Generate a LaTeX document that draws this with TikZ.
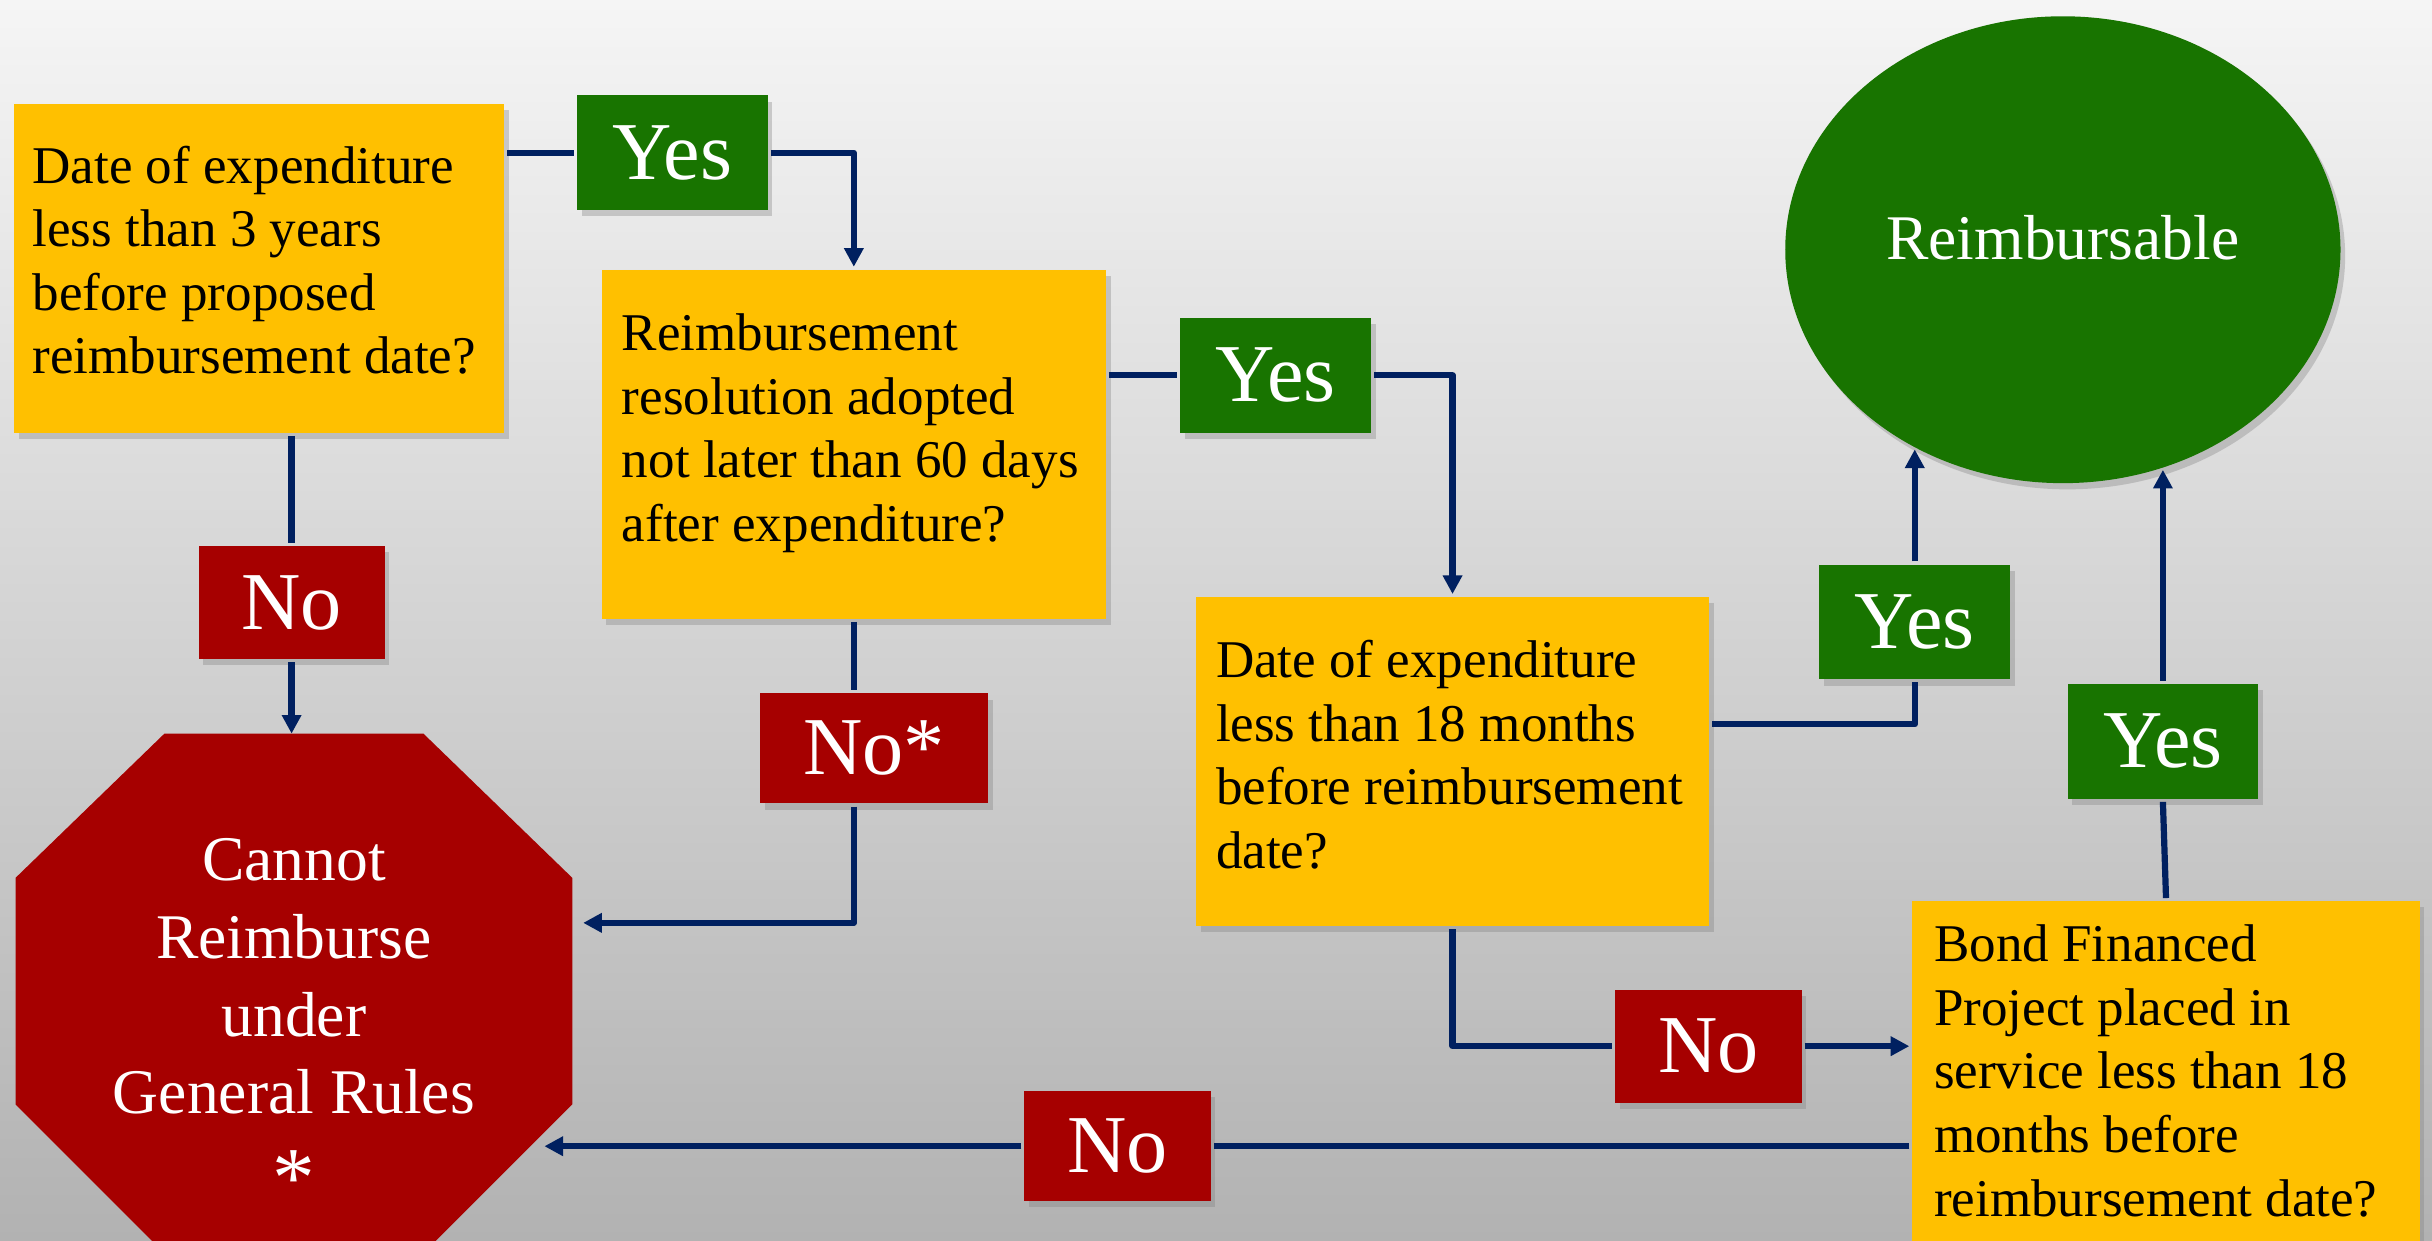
\documentclass[tikz,border=0pt]{standalone}
\usepackage{fontspec}
\setmainfont{Liberation Serif}
\usetikzlibrary{arrows.meta,shapes.geometric,shadows}

\definecolor{boxyellow}{HTML}{FFC000}
\definecolor{yesgreen}{HTML}{187400}
\definecolor{nored}{HTML}{A60000}
\definecolor{flownavy}{HTML}{002060}
\definecolor{bgtop}{HTML}{F5F5F5}
\definecolor{bgbottom}{HTML}{B2B2B2}

\newcommand\bigstar{\raisebox{-10pt}{\fontsize{55}{55}\selectfont *}}

\tikzset{every picture/.style={line width=4pt}}
\tikzset{
  boxshadow/.style={drop shadow={shadow xshift=3pt,shadow yshift=-4pt,opacity=0.35}},
  question/.style={fill=boxyellow,boxshadow,anchor=north west,inner ysep=0pt,align=flush left,
    font=\fontsize{34.2}{41}\selectfont},
  yesbox/.style={fill=yesgreen,text=white,boxshadow,minimum width=123pt,minimum height=74pt,
    inner sep=0pt,font=\fontsize{53}{60}\selectfont},
  nobox/.style={yesbox,fill=nored,minimum width=120pt,minimum height=73pt},
  flow/.style={draw=flownavy,line width=4pt,line join=round},
  flowarr/.style={flow,-{Triangle[length=12pt,width=12pt]}},
}

\begin{document}
\begin{tikzpicture}[x=1pt,y=-1pt]
\useasboundingbox (0,0) rectangle (1568,800);
% background
\shade[top color=bgtop,bottom color=bgbottom] (0,0) rectangle (1568,800);

% Questions
\node[question,inner xsep=12pt,text width=292pt,text height=51pt,text depth=161pt] (boxA) at (7,65)
  {Date of expenditure\\less than 3 years\\before proposed\\reimbursement date?};
\node[question,inner xsep=13pt,text width=299pt,text height=52pt,text depth=173pt] (boxB) at (386,172)
  {Reimbursement\\resolution adopted\\not later than 60 days\\after expenditure?};
\node[question,inner xsep=13pt,text width=305pt,text height=52pt,text depth=160pt] (boxC) at (769,383)
  {Date of expenditure\\less than 18 months\\before reimbursement\\date?};
\node[question,inner xsep=14pt,text width=299pt,text height=39pt,text depth=230pt] (boxD) at (1231,579)
  {Bond Financed\\Project placed in\\service less than 18\\months before\\reimbursement date?};

% Outcomes
\node[ellipse,fill=yesgreen,boxshadow,minimum width=358pt,minimum height=301pt,inner sep=0pt,
  text=white,text depth=16pt,font=\fontsize{41}{48}\selectfont] (reimb) at (1330,161) {Reimbursable};

\fill[nored] (106,473) -- (273,473) -- (369,566) -- (369,712) -- (273,808)
  -- (106,808) -- (10,712) -- (10,566) -- cycle;
\node[text=white,text width=340pt,align=flush center,anchor=base,inner sep=0pt,
  font=\fontsize{41}{50}\selectfont] (stoptext) at (189.5,568)
  {Cannot\\Reimburse\\under\\General Rules\\\bigstar};
\coordinate (in1) at (188,473);
\coordinate (in2) at (376,595);
\coordinate (in3) at (351,739);

% Answers
\node[yesbox] (yes1) at (433.5,98.5) {Yes};
\node[yesbox] (yes2) at (822.5,242) {Yes};
\node[yesbox] (yes3) at (1234.5,401) {Yes};
\node[yesbox] (yes4) at (1394.5,478) {Yes};
\node[nobox] (no1) at (188,388.5) {No};
\node[nobox,minimum width=147pt,minimum height=71pt] (no2) at (563.5,482.5) {No*};
\node[nobox] (no3) at (1101.5,674.5) {No};
\node[nobox,minimum height=71pt] (no4) at (720.5,739) {No};

% Connectors
\draw[flow] (yes1.west -| boxA.east) -- (yes1.west);
\draw[flowarr] (yes1.east) -| (boxB.north);
\draw[flow] (yes2.west -| boxB.east) -- (yes2.west);
\draw[flowarr] (yes2.east) -| (boxC.north);
\draw[flow] ([yshift=24pt]boxC.east) -| (yes3.south);
\draw[flowarr] (yes3.north) -- (yes3.north |- reimb.233);
\draw[flow] (boxD.north) -- (yes4.south);
\draw[flowarr] (yes4.north) -- (yes4.north |- reimb.295);
\draw[flow] (boxC.south) |- (no3.west);
\draw[flowarr] (no3.east) -- (no3.east -| boxD.west);
\draw[flow] (no4.east -| boxD.west) -- (no4.east);
\draw[flowarr] (no4.west) -- (in3);
\draw[flow] (boxA.south -| no1.north) -- (no1.north);
\draw[flowarr] (no1.south) -- (in1);
\draw[flow] (boxB.south) -- (boxB.south |- no2.north);
\draw[flowarr] (boxB.south |- no2.south) |- (in2);

\end{tikzpicture}
\end{document}
